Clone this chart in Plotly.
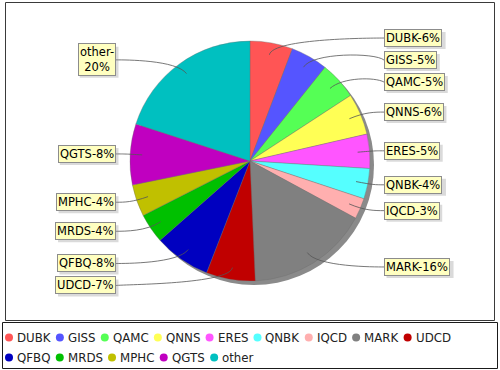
import math
import plotly.graph_objects as go

# ---------------- data ----------------
categories = ["DUBK", "GISS", "QAMC", "QNNS", "ERES", "QNBK", "IQCD",
              "MARK", "UDCD", "QFBQ", "MRDS", "MPHC", "QGTS", "other"]
values = [5.75, 5.0, 5.05, 5.6, 4.6, 4.1, 2.8,
          16.4, 6.6, 7.6, 4.0, 4.3, 8.2, 20.0]
colors = ["#FF5555", "#5555FF", "#55FF55", "#FFFF55", "#FF55FF", "#55FFFF",
          "#FFAFAF", "#808080", "#C00000", "#0000C0", "#00C000", "#C0C000",
          "#C000C0", "#00C0C0"]

# ---------------- layout constants ----------------
W, H = 500, 370
CX, CY, R = 250, 161, 120        # pie centre / radius in px
R_LINK = 125                      # label-link ellipse radius
LABEL_GAP = 9
LINK_DEPTH = 0.9
FONT = "DejaVu Sans"
FS = 11.5
LEG_FS = 11.8
LINE_H = 16                       # single-line label box height
MIN_GAP = 6

# DejaVu Sans advance widths (em) for width estimates
ADV = {"A": .684, "B": .686, "C": .698, "D": .770, "E": .632, "F": .575, "G": .775,
       "H": .752, "I": .295, "K": .656, "M": .863, "N": .748, "P": .603, "Q": .787,
       "R": .695, "S": .635, "T": .611, "U": .732, "o": .612, "t": .392, "h": .634,
       "e": .615, "r": .411, "-": .361, "%": .950}


def text_w(s, fs):
    return sum(ADV.get(ch, .636) for ch in s) * fs


def px(x):
    return x / W


def py(y):
    return 1 - y / H


total = sum(values)
pcts = [v / total * 100 for v in values]
label_texts = []
for c, p in zip(categories, pcts):
    t = f"{c}-{p:.0f}%"
    if len(t) > 8:
        t = f"{c}-<br>{p:.0f}%"
    label_texts.append(t)

# mid angles (clockwise from 12 o'clock)
mids = []
acc = 0.0
for v in values:
    mids.append((acc + v / 2) / total * 2 * math.pi)
    acc += v

recs = []
for i, th in enumerate(mids):
    nlines = label_texts[i].count("<br>") + 1
    h = LINE_H + (nlines - 1) * 14
    recs.append(dict(i=i, th=th, side="R" if math.sin(th) > 0 else "L",
                     base=CY - R_LINK * math.cos(th), h=h))


def distribute(items, ymin, ymax):
    items.sort(key=lambda d: d["base"])
    for d in items:
        d["y"] = d["base"]
    for a, b in zip(items, items[1:]):
        need = a["y"] + a["h"] / 2 + MIN_GAP + b["h"] / 2
        if b["y"] < need:
            b["y"] = need
    if items and items[-1]["y"] + items[-1]["h"] / 2 > ymax:
        items[-1]["y"] = ymax - items[-1]["h"] / 2
        for b, a in zip(reversed(items), list(reversed(items))[1:]):
            lim = b["y"] - b["h"] / 2 - MIN_GAP - a["h"] / 2
            if a["y"] > lim:
                a["y"] = lim


distribute([r for r in recs if r["side"] == "R"], 4, 318)
distribute([r for r in recs if r["side"] == "L"], 4, 318)

fig = go.Figure()
fig.add_trace(go.Pie(
    values=values, labels=categories,
    marker=dict(colors=colors, line=dict(color="rgba(110,110,110,0.6)", width=0.6)),
    sort=False, direction="clockwise", rotation=0,
    textinfo="none", textposition="none", showlegend=False,
    hoverinfo="label+percent",
    domain=dict(x=[px(CX - R), px(CX + R)], y=[py(CY + R), py(CY - R)]),
))

shapes = []
# plot outline
shapes.append(dict(type="rect", xref="paper", yref="paper",
                   x0=px(5.5), x1=px(494.5), y0=py(320.5), y1=py(2.5),
                   line=dict(color="#3a3a3a", width=1), fillcolor="rgba(0,0,0,0)",
                   layer="below"))
# pie shadow
shapes.append(dict(type="circle", xref="paper", yref="paper",
                   x0=px(CX - R + 4), x1=px(CX + R + 4),
                   y0=py(CY + R + 4), y1=py(CY - R + 4),
                   fillcolor="#8a8a8a", line=dict(width=0), layer="below"))
# legend box
shapes.append(dict(type="rect", xref="paper", yref="paper",
                   x0=px(2.5), x1=px(497.5), y0=py(368.5), y1=py(322.5),
                   line=dict(color="#1a1a1a", width=1), fillcolor="rgba(0,0,0,0)"))

annotations = []
for r in recs:
    th = r["th"]
    s = 1 if r["side"] == "R" else -1
    anchor_x = CX + s * R_LINK
    target_x = anchor_x + s * LABEL_GAP
    ty = r["y"]
    ex, ey = CX + R_LINK * math.sin(th), CY - R_LINK * math.cos(th)
    lx, ly = CX + R * LINK_DEPTH * math.sin(th), CY - R * LINK_DEPTH * math.cos(th)
    path = (f"M {px(target_x)},{py(ty)} C {px(anchor_x)},{py(ey)} "
            f"{px(ex)},{py(ey)} {px(lx)},{py(ly)}")
    shapes.append(dict(type="path", xref="paper", yref="paper", path=path,
                       line=dict(color="#555555", width=0.8)))
    # label shadow box (estimated size)
    lines = label_texts[r["i"]].split("<br>")
    bw = max(text_w(ln, FS) for ln in lines) + 4
    bh = r["h"] + 1
    bx0 = target_x if s > 0 else target_x - bw
    shapes.append(dict(type="rect", xref="paper", yref="paper",
                       x0=px(bx0 + 2.5), x1=px(bx0 + bw + 2.5),
                       y0=py(ty + bh / 2 + 2.5), y1=py(ty - bh / 2 + 2.5),
                       fillcolor="rgba(150,150,150,0.35)", line=dict(width=0)))
    annotations.append(dict(xref="paper", yref="paper", x=px(target_x), y=py(ty),
                            xanchor="left" if s > 0 else "right", yanchor="middle",
                            text=label_texts[r["i"]], showarrow=False, borderpad=1,
                            borderwidth=1,
                            font=dict(family=FONT, size=FS, color="#000000"),
                            bgcolor="#FFFFC0", bordercolor="#8c8c8c"))

# legend: circle + text items flowed in rows
LEG_X0, LEG_MAXX = 9, 492
ROW_Y0, ROW_DY = 337.5, 20
xc, row = LEG_X0, 0
for i, c in enumerate(categories):
    tw = text_w(c, LEG_FS)
    if xc + 7.5 + tw > LEG_MAXX:
        row += 1
        xc = LEG_X0
    yc = ROW_Y0 + ROW_DY * row
    shapes.append(dict(type="circle", xref="paper", yref="paper",
                       x0=px(xc - 4), x1=px(xc + 4), y0=py(yc + 4), y1=py(yc - 4),
                       fillcolor=colors[i], line=dict(width=0)))
    annotations.append(dict(xref="paper", yref="paper", x=px(xc + 7), y=py(yc),
                            xanchor="left", yanchor="middle", showarrow=False,
                            text=c, borderpad=0,
                            font=dict(family=FONT, size=LEG_FS, color="#222222")))
    xc = xc + 7.5 + tw + 9.8

fig.update_layout(width=W, height=H, margin=dict(l=0, r=0, t=0, b=0),
                  paper_bgcolor="white", plot_bgcolor="white",
                  shapes=shapes, annotations=annotations, showlegend=False)
fig.write_html("out.html", config={"displayModeBar": False},
               post_script="document.body.style.margin='0';document.body.style.padding='0';")
